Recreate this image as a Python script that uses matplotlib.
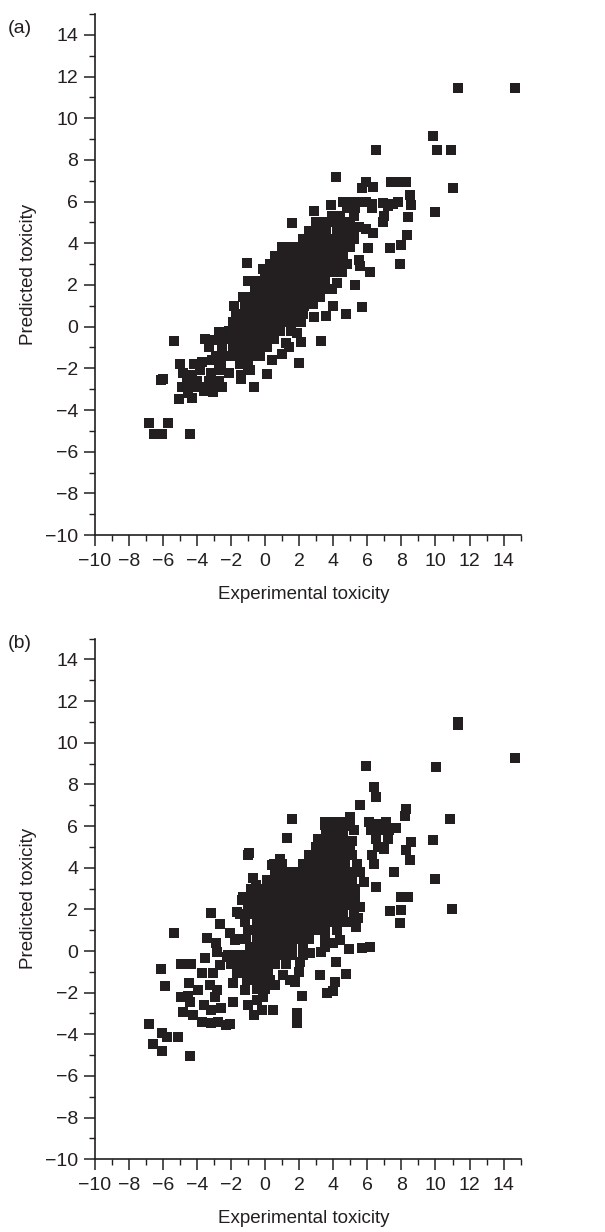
import matplotlib
matplotlib.use("Agg")
import matplotlib.pyplot as plt
from matplotlib.ticker import MultipleLocator

plt.rcParams['font.family'] = ['Liberation Sans', 'DejaVu Sans']

# ---------------- Panel (a): experimental vs predicted toxicity ----------------
# isolated high-toxicity compounds
a_high = [
    (11.3, 11.45), (14.65, 11.45), (9.85, 9.15), (10.1, 8.5), (10.9, 8.5),
    (11.0, 6.65), (10.0, 5.5), (6.5, 8.5), (4.15, 7.2), (1.6, 4.95),
    (2.86, 5.55), (3.86, 5.84), (-1.05, 3.04), (-0.1, 2.75), (7.9, 3.0),
    (6.15, 2.64), (7.36, 3.76), (7.95, 3.9), (8.35, 4.4), (8.4, 5.28),
    (8.54, 5.84), (8.5, 6.3), (8.25, 6.96), (7.4, 6.96), (7.8, 6.96),
    (5.9, 6.96), (6.35, 6.72), (5.66, 6.64), (6.93, 5.92), (7.5, 5.89),
    (6.93, 5.04), (6.35, 4.48), (6.05, 3.76), (5.7, 0.95), (4.75, 0.6),
]
# main cloud, read row by row
a_core = [
    (4.6, 6.0), (5.0, 6.0), (5.4, 6.0), (5.9, 6.0), (6.3, 5.9), (7.8, 6.0),
    (4.8, 5.7), (5.3, 5.7), (6.3, 5.7), (7.2, 5.8),
    (3.9, 5.3), (4.4, 5.3), (5.2, 5.3), (7.0, 5.3),
    (3.0, 5.0), (3.5, 5.0), (4.0, 5.0), (4.5, 5.0), (5.0, 5.0), (5.5, 4.8),
    (2.6, 4.6), (3.1, 4.6), (3.6, 4.6), (4.2, 4.6), (4.7, 4.6), (5.2, 4.6), (5.9, 4.7),
    (2.2, 4.2), (2.7, 4.2), (3.2, 4.2), (3.7, 4.2), (4.2, 4.2), (4.7, 4.2), (5.2, 4.2),
    (1.0, 3.8), (1.5, 3.8), (2.0, 3.8), (2.5, 3.8), (3.0, 3.8), (3.5, 3.8), (4.0, 3.8),
    (4.5, 3.8), (5.0, 3.8),
    (0.6, 3.4), (1.1, 3.4), (1.6, 3.4), (2.1, 3.4), (2.6, 3.4), (3.1, 3.4), (3.6, 3.4),
    (4.1, 3.4), (4.6, 3.4), (5.5, 3.2),
    (0.3, 3.0), (0.8, 3.0), (1.3, 3.0), (1.8, 3.0), (2.3, 3.0), (2.8, 3.0), (3.3, 3.0),
    (3.8, 3.0), (4.3, 3.0), (4.8, 3.0), (5.6, 2.9),
    (0.0, 2.6), (0.5, 2.6), (1.0, 2.6), (1.5, 2.6), (2.0, 2.6), (2.5, 2.6), (3.0, 2.6),
    (3.5, 2.6), (4.0, 2.6), (4.5, 2.6),
    (-1.0, 2.2), (-0.5, 2.2), (0.0, 2.2), (0.5, 2.2), (1.0, 2.2), (1.5, 2.2), (2.0, 2.2),
    (2.5, 2.2), (3.0, 2.2), (3.5, 2.2), (4.2, 2.1), (5.3, 2.0),
    (-0.6, 1.8), (-0.1, 1.8), (0.4, 1.8), (0.9, 1.8), (1.4, 1.8), (1.9, 1.8), (2.4, 1.8),
    (2.9, 1.8), (3.4, 1.8), (3.9, 1.8),
    (-1.3, 1.4), (-0.8, 1.4), (-0.3, 1.4), (0.2, 1.4), (0.7, 1.4), (1.2, 1.4), (1.7, 1.4),
    (2.2, 1.4), (2.7, 1.4), (3.2, 1.4),
    (-1.8, 1.0), (-1.2, 1.0), (-0.7, 1.0), (-0.2, 1.0), (0.3, 1.0), (0.8, 1.0), (1.3, 1.0),
    (1.8, 1.0), (2.3, 1.0), (2.8, 1.1), (4.0, 1.0),
    (-1.7, 0.6), (-1.2, 0.6), (-0.7, 0.6), (-0.2, 0.6), (0.3, 0.6), (0.7, 0.6), (1.2, 0.6),
    (1.7, 0.6), (2.2, 0.6), (2.9, 0.45), (3.6, 0.53),
    (-1.9, 0.2), (-1.4, 0.2), (-0.9, 0.2), (-0.4, 0.2), (0.1, 0.2), (0.6, 0.2), (1.1, 0.2),
    (1.6, 0.2), (2.1, 0.2),
    (-2.7, -0.25), (-2.1, -0.2), (-1.6, -0.2), (-1.1, -0.2), (-0.6, -0.2), (-0.1, -0.2),
    (0.4, -0.2), (0.9, -0.2), (1.5, -0.2), (1.9, -0.3),
    (-3.5, -0.6), (-3.0, -0.65), (-2.5, -0.6), (-2.0, -0.6), (-1.5, -0.6), (-1.0, -0.6),
    (-0.5, -0.6), (0.0, -0.6), (0.5, -0.6), (1.2, -0.8), (2.1, -0.75), (3.3, -0.67),
    (-3.3, -1.0), (-2.5, -1.0), (-1.9, -1.0), (-1.4, -1.0), (-0.9, -1.0), (-0.4, -1.0),
    (0.1, -1.0), (1.4, -1.0),
    (-2.9, -1.4), (-2.3, -1.4), (-1.8, -1.4), (-1.3, -1.4), (-0.8, -1.4), (-0.3, -1.4),
    (0.4, -1.6), (1.0, -1.3),
    (-5.0, -1.8), (-4.2, -1.8), (-3.7, -1.7), (-3.1, -1.6), (-2.6, -1.8), (-1.5, -1.8),
    (-1.0, -1.9), (2.0, -1.76),
    (-4.8, -2.2), (-4.3, -2.3), (-3.8, -2.1), (-3.2, -2.2), (-2.7, -2.1), (-2.1, -2.2),
    (-1.4, -2.3), (-0.9, -2.1), (0.1, -2.27),
    (-4.6, -2.6), (-4.0, -2.6), (-3.3, -2.6), (-2.7, -2.6), (-1.4, -2.5),
    (-4.9, -2.9), (-4.4, -2.9), (-3.8, -2.9), (-3.0, -2.9), (-2.55, -2.88), (-0.64, -2.91),
    (-4.5, -3.2), (-3.6, -3.07), (-3.04, -3.15),
    (-5.07, -3.47), (-4.3, -3.42),
]
# low-toxicity tail
a_low = [
    (-5.33, -0.67), (-5.97, -2.51), (-6.1, -2.56),
    (-6.8, -4.64), (-6.53, -5.15), (-6.05, -5.15), (-6.3, -5.15), (-5.7, -4.64),
    (-4.39, -5.15),
]

# ---------------- Panel (b): experimental vs predicted toxicity ----------------
b_high = [
    (11.3, 11.0), (11.35, 10.85), (14.65, 9.28), (10.06, 8.82), (5.9, 8.88),
    (6.38, 7.89), (6.5, 7.38), (5.56, 7.0), (10.88, 6.32), (9.86, 5.33),
    (9.96, 3.44), (10.98, 2.02), (1.6, 6.32), (1.26, 5.44), (-0.99, 4.6),
    (-0.93, 4.7), (8.25, 6.8), (8.2, 6.5), (8.54, 5.25), (8.25, 4.85),
    (8.5, 4.37), (7.56, 3.81), (7.36, 1.92), (7.95, 1.97), (7.95, 2.6),
    (8.4, 2.58), (7.9, 1.33), (6.5, 3.06), (4.98, 6.42), (3.5, 6.05),
    (4.0, 6.16), (-3.15, 1.81), (-2.66, 1.3), (-1.63, 1.89), (-1.33, 2.45),
    (-0.85, 3.0), (-0.68, 3.52), (-0.52, 3.17), (0.38, 4.13), (0.87, 4.4),
    (5.66, 0.13), (6.15, 0.21), (5.33, 1.17), (5.47, 1.57), (5.56, 2.13),
]
b_core = [
    (3.5, 6.2), (4.0, 6.2), (4.5, 6.2), (5.0, 6.0), (6.1, 6.2), (6.6, 6.1), (7.1, 6.2),
    (3.6, 5.8), (4.1, 5.8), (4.6, 5.8), (5.2, 5.8), (6.2, 5.8), (6.7, 5.8), (7.3, 5.8), (7.7, 5.9),
    (3.1, 5.4), (3.6, 5.4), (4.1, 5.4), (4.6, 5.4), (5.1, 5.3), (6.5, 5.4), (7.2, 5.4),
    (3.0, 5.0), (3.5, 5.0), (4.0, 5.0), (4.5, 5.0), (5.0, 5.0), (6.6, 5.0), (7.0, 4.9),
    (2.6, 4.6), (3.1, 4.6), (3.6, 4.6), (4.1, 4.6), (4.6, 4.6), (5.1, 4.6), (6.3, 4.6),
    (0.5, 4.2), (1.0, 4.2), (2.2, 4.2), (2.7, 4.2), (3.2, 4.2), (3.7, 4.2), (4.2, 4.2),
    (4.7, 4.2), (5.4, 4.2), (6.4, 4.2),
    (0.6, 3.8), (1.1, 3.8), (1.6, 3.8), (2.1, 3.8), (2.6, 3.8), (3.1, 3.8), (3.6, 3.8),
    (4.1, 3.8), (4.6, 3.8), (5.1, 3.8), (5.6, 3.8),
    (0.1, 3.4), (0.6, 3.4), (1.1, 3.4), (1.6, 3.4), (2.1, 3.4), (2.6, 3.4), (3.1, 3.4),
    (3.6, 3.4), (4.1, 3.4), (4.6, 3.4), (5.1, 3.4), (5.8, 3.3),
    (-0.3, 3.0), (0.2, 3.0), (0.7, 3.0), (1.2, 3.0), (1.7, 3.0), (2.2, 3.0), (2.7, 3.0),
    (3.2, 3.0), (3.7, 3.0), (4.2, 3.0), (4.7, 3.0), (5.3, 3.0),
    (-1.3, 2.6), (-0.8, 2.6), (-0.3, 2.6), (0.2, 2.6), (0.7, 2.6), (1.2, 2.6), (1.7, 2.6),
    (2.2, 2.6), (2.7, 2.6), (3.2, 2.6), (3.7, 2.6), (4.2, 2.6), (4.7, 2.6), (5.3, 2.5),
    (-1.0, 2.2), (-0.5, 2.2), (0.0, 2.2), (0.5, 2.2), (1.0, 2.2), (1.5, 2.2), (2.0, 2.2),
    (2.5, 2.2), (3.0, 2.2), (3.5, 2.2), (4.0, 2.2), (4.5, 2.2), (5.0, 2.2),
    (-1.5, 1.8), (-0.9, 1.8), (-0.4, 1.8), (0.1, 1.8), (0.6, 1.8), (1.1, 1.8), (1.6, 1.8),
    (2.1, 1.8), (2.6, 1.8), (3.1, 1.8), (3.6, 1.8), (4.1, 1.8), (4.6, 1.8), (5.2, 1.8),
    (-1.2, 1.4), (-0.5, 1.4), (0.0, 1.4), (0.5, 1.4), (1.0, 1.4), (1.5, 1.4), (2.0, 1.4),
    (2.5, 1.4), (3.0, 1.4), (3.5, 1.4), (4.0, 1.4), (4.5, 1.4), (5.0, 1.4),
    (-1.0, 1.0), (-0.5, 1.0), (0.0, 1.0), (0.5, 1.0), (1.0, 1.0), (1.5, 1.0), (2.0, 1.0),
    (2.5, 1.0), (3.0, 1.0), (3.5, 1.0), (4.2, 1.0),
    (-1.6, 0.6), (-1.1, 0.6), (-0.5, 0.6), (0.0, 0.6), (0.5, 0.6), (1.0, 0.6), (1.5, 0.6),
    (2.0, 0.6), (2.6, 0.6), (3.5, 0.61), (4.39, 0.53), (4.0, 0.37),
    (-0.9, 0.2), (-0.4, 0.2), (0.1, 0.2), (0.6, 0.2), (1.1, 0.2), (1.6, 0.2), (2.2, 0.2),
    (-2.2, -0.2), (-1.6, -0.2), (-1.0, -0.2), (-0.4, -0.2), (0.1, -0.2), (0.6, -0.2),
    (1.1, -0.2), (1.6, -0.2), (2.2, -0.2), (2.63, -0.11), (3.31, -0.03), (4.94, 0.08),
    (-2.0, -0.6), (-1.4, -0.6), (-0.9, -0.6), (-0.4, -0.6), (0.1, -0.6), (0.6, -0.6),
    (1.2, -0.6), (2.04, -0.51), (4.16, -0.51),
    (-1.4, -1.0), (-0.8, -1.0), (-0.3, -1.0), (0.2, -1.0),
    (-0.7, -1.4), (-0.2, -1.4), (0.3, -1.4),
    (-0.5, -1.8), (0.0, -1.8),
]
b_low = [
    (-5.35, 0.85), (-6.1, -0.88), (-5.9, -1.68), (-4.96, -0.62), (-4.37, -0.62),
    (-6.84, -3.5), (-6.59, -4.46), (-6.06, -3.92), (-5.77, -4.14), (-6.03, -4.78),
    (-5.11, -4.11), (-4.4, -5.04),
    (-4.94, -2.22), (-4.51, -2.14), (-4.4, -2.43), (-4.8, -2.94), (-4.22, -3.07),
    (-3.69, -3.42), (-3.6, -2.59), (-3.15, -2.83), (-2.76, -3.39), (-2.56, -2.75),
    (-2.27, -3.55), (-2.06, -3.52), (-1.91, -2.43), (-3.15, -3.47),
    (-4.46, -1.55), (-3.95, -1.87), (-3.72, -1.07), (-3.52, -0.35), (-3.42, 0.61),
    (-2.9, 0.37), (-2.85, -0.03), (-3.04, -1.07), (-3.24, -1.63), (-2.85, -1.87),
    (-2.95, -2.19), (-2.64, -0.67), (-2.25, -0.27), (-2.06, 0.85), (-1.77, 0.53),
    (-1.48, -0.43), (-1.87, -1.55), (-1.67, -1.07), (-1.08, -1.39), (-1.18, -1.87),
    (-0.99, -2.59), (-0.64, -3.07), (-0.5, -2.35), (-0.2, -2.83), (0.45, -2.83),
    (-0.11, -2.19), (-0.4, -1.71), (0.58, -1.63), (1.07, -1.15), (1.46, -1.39),
    (1.75, -1.47), (1.97, -0.99), (1.9, -2.99), (1.9, -3.44), (2.14, -2.16),
    (3.25, -1.15), (3.5, 0.2), (4.1, -1.47), (4.74, -1.1), (3.61, -2.0), (3.96, -1.92),
]

panels = [
    ("(a)", a_high + a_core + a_low),
    ("(b)", b_high + b_core + b_low),
]

tick_values = list(range(-10, 15, 2))
marker_color = "#231f20"

fig = plt.figure(figsize=(6.05, 12.32), dpi=100)
axes_rects = [
    [0.1565, 0.5657, 0.7041, 0.4229],
    [0.1565, 0.0590, 0.7041, 0.4227],
]
letter_y = [0.977, 0.478]

for (letter, pts), rect, ly in zip(panels, axes_rects, letter_y):
    ax = fig.add_axes(rect)
    xs = [p[0] for p in pts]
    ys = [p[1] for p in pts]
    ax.scatter(xs, ys, marker="s", s=54, color=marker_color, linewidths=0)

    ax.set_xlim(-10, 15)
    ax.set_ylim(-10, 15)
    ax.set_xticks(tick_values)
    ax.set_yticks(tick_values)
    ax.xaxis.set_minor_locator(MultipleLocator(1))
    ax.yaxis.set_minor_locator(MultipleLocator(1))
    ax.tick_params(which="major", direction="out", length=8, width=1.1,
                   labelsize=14, color="#231f20", labelcolor="#231f20")
    ax.tick_params(which="minor", direction="out", length=4.5, width=1.0,
                   color="#231f20")
    ax.tick_params(axis="x", which="major", pad=5)
    ax.tick_params(axis="y", which="major", pad=4)

    for side in ("top", "right"):
        ax.spines[side].set_visible(False)
    for side in ("left", "bottom"):
        ax.spines[side].set_linewidth(1.2)
        ax.spines[side].set_color("#231f20")

    ax.set_xlabel("Experimental toxicity", fontsize=13.5, color="#231f20")
    ax.set_ylabel("Predicted toxicity", fontsize=13.5, color="#231f20")
    ax.xaxis.set_label_coords(0.49, -0.097)
    ax.yaxis.set_label_coords(-0.135, 0.5)

    fig.text(0.033, ly, letter, fontsize=14, color="#231f20",
             ha="center", va="center")

fig.savefig("out.png", dpi=100)
